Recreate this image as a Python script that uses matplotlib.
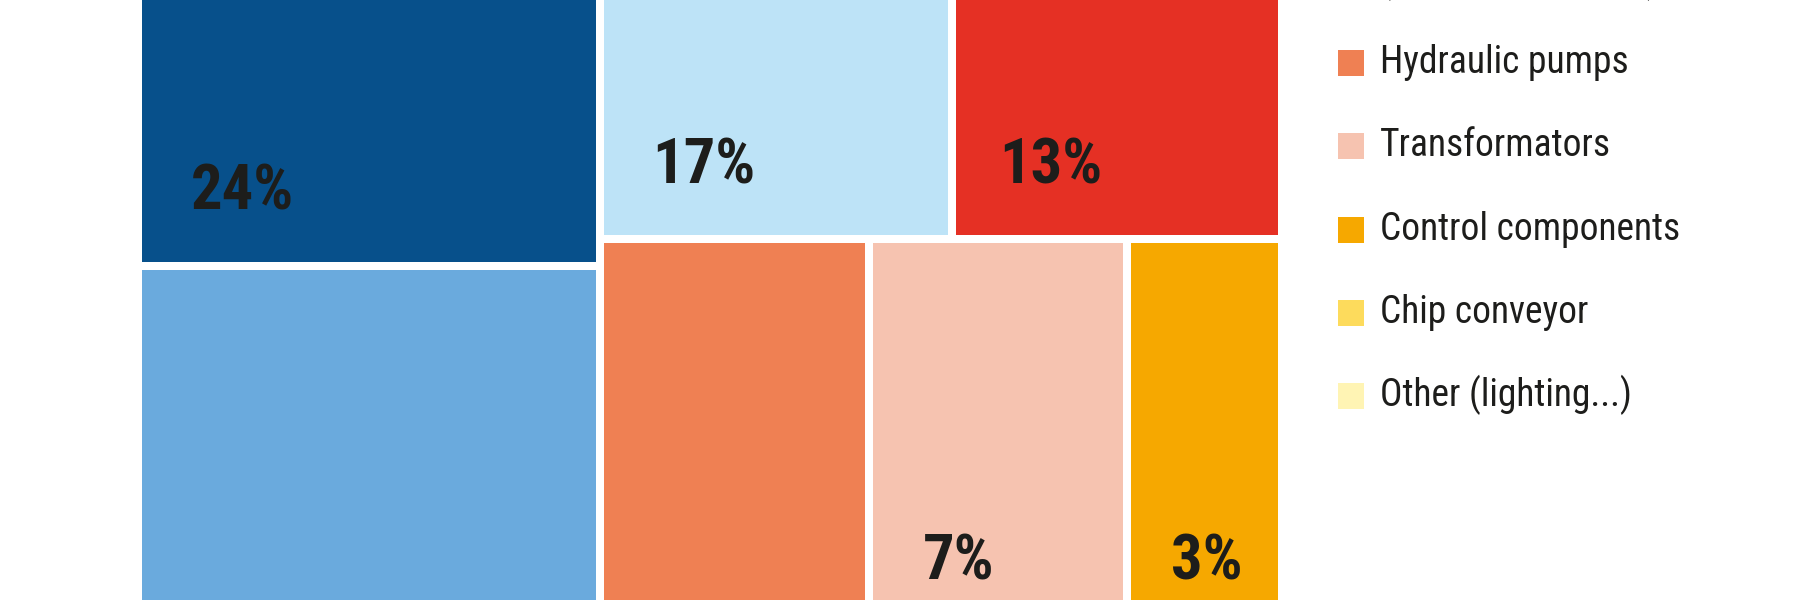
import matplotlib.pyplot as plt
from matplotlib.patches import Rectangle

# data
labels = ["Main spindle", "Feed drives", "Cooling lubricant pump",
          "Coolant system\n(tank, filter, chiller)", "Hydraulic pumps",
          "Transformators", "Control components", "Chip conveyor",
          "Other (lighting...)"]
shares = [24, 16, 17, 13, 9, 7, 3, 7, 4]
colors = ["#07508b", "#6aaadd", "#bde3f7", "#e53024", "#ef8053",
          "#f6c3b0", "#f6a800", "#fddb5c", "#fff4b4"]

# treemap cells (x0, x1, y0, y1) in view units, the picture is a crop of the full map
cells = [
    (137.5, 600, -300, 266),
    (137.5, 600, 266, 900),
    (600, 952, -300, 239),
    (952, 1282, -300, 239),
    (600, 869, 239, 900),
    (869, 1127, 239, 900),
    (1127, 1282, 239, 660),
    (1127, 1282, 660, 790),
    (1127, 1282, 790, 900),
]
# where each share label sits (left, baseline)
label_pos = [(191, 210), (191, 760), (652, 184), (999, 184), (651, 760),
             (923, 580), (1171, 580), (1150, 740), (1150, 860)]
gap = 8

FONT = ["Roboto Condensed", "Barlow Condensed", "DejaVu Sans"]
ink = "#1d1d1b"

fig = plt.figure(figsize=(18, 6), dpi=100)
ax = fig.add_axes([0, 0, 1, 1])
ax.set_xlim(0, 1800)
ax.set_ylim(600, 0)
ax.axis("off")

for (x0, x1, y0, y1), c in zip(cells, colors):
    ax.add_patch(Rectangle((x0 + gap / 2, y0 + gap / 2), x1 - x0 - gap, y1 - y0 - gap,
                           facecolor=c, edgecolor="none"))

for (lx, ly), s in zip(label_pos, shares):
    ax.text(lx, ly, f"{s}%", family=FONT, fontweight="bold", fontsize=45,
            color=ink, ha="left", va="baseline")

# legend, built by hand: the square sits on the first line of its label
sq = 26
step, extra, line = 83.33, 38, 40
first = labels.index("Hydraulic pumps")
centers = [0.0] * len(labels)
centers[first] = 63.0
for i in range(first + 1, len(labels)):
    centers[i] = centers[i - 1] + step + extra * labels[i - 1].count("\n")
for i in range(first - 1, -1, -1):
    centers[i] = centers[i + 1] - step - extra * labels[i].count("\n")

for lab, col, cy in zip(labels, colors, centers):
    ax.add_patch(Rectangle((1338, cy - sq / 2), sq, sq, facecolor=col, edgecolor="none"))
    for i, part in enumerate(lab.split("\n")):
        ax.text(1380, cy + 10 + i * line, part, family=FONT, fontsize=27,
                color=ink, ha="left", va="baseline")

fig.savefig("out.png", dpi=100)
